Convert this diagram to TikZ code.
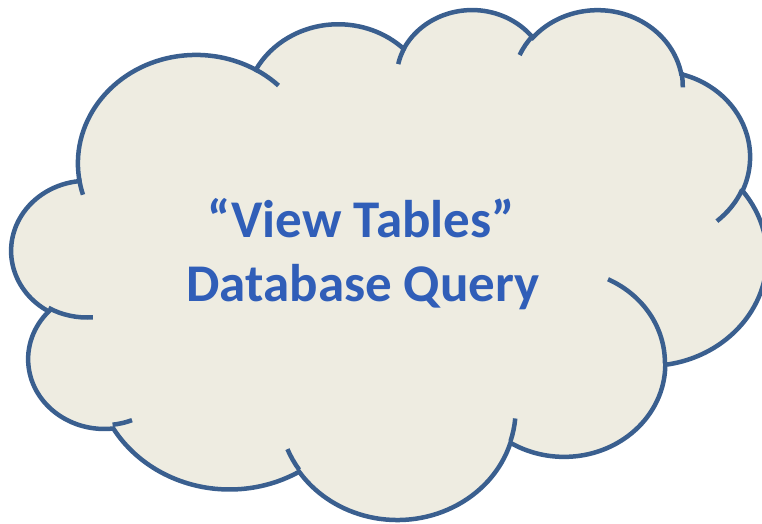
\documentclass[tikz,border=0pt]{standalone}
\usepackage{fontspec}
\setmainfont{Carlito}
\definecolor{cloudfill}{HTML}{EEECE1}
\definecolor{cloudline}{HTML}{3A5F8F}
\definecolor{wordblue}{RGB}{48,94,184}
\newcommand\defarc[5]{%
  \pgfmathsetmacro\tmpS{atan2(#2*sin(#4),#3*cos(#4))}%
  \pgfmathsetmacro\tmpE{atan2(#2*sin(#4+#5),#3*cos(#4+#5))}%
  \pgfmathsetmacro\tmpD{mod(\tmpE-\tmpS+720,360)}%
  \expandafter\xdef\csname cs#1\endcsname{\tmpS}%
  \expandafter\xdef\csname cd#1\endcsname{\tmpD}%
  \expandafter\xdef\csname cx#1\endcsname{#2}%
  \expandafter\xdef\csname cy#1\endcsname{#3}}
\newcommand\carc[1]{arc[x radius=\csname cx#1\endcsname, y radius=\csname cy#1\endcsname, start angle=\csname cs#1\endcsname, delta angle=\csname cd#1\endcsname]}
\tikzset{
  cloudshape/.style={fill=cloudfill, draw=cloudline, line width=4.5pt, line join=miter},
  cloudtick/.style={draw=cloudline, line width=4.5pt, line cap=butt},
  wordart/.style={text=wordblue, font=\fontsize{53}{65}\selectfont\bfseries, inner sep=0pt}
}
\begin{document}
\defarc{A}{67.53}{91.90}{-190.4875}{123.7805}
\defarc{B}{53.33}{72.67}{-144.1024}{89.9452}
\defarc{C}{43.65}{59.45}{-145.8079}{99.7230}
\defarc{D}{48.57}{65.95}{-130.9861}{117.2417}
\defarc{E}{53.33}{72.73}{-78.7089}{109.0269}
\defarc{F}{67.75}{92.20}{-46.2673}{130.2690}
\defarc{G}{57.85}{78.67}{0.6250}{114.0333}
\defarc{H}{67.52}{92.15}{22.4516}{115.1726}
\defarc{I}{77.20}{105.43}{66.2426}{74.7852}
\defarc{J}{43.60}{59.18}{-274.9421}{146.7356}
\defarc{K}{43.45}{59.45}{-246.8285}{152.5189}
\defarc{a}{43.45}{59.45}{86.7420}{26.4295}
\defarc{b}{43.60}{59.18}{73.6105}{11.4475}
\defarc{c}{67.52}{92.15}{137.6242}{14.0811}
\defarc{d}{67.52}{92.15}{6.4533}{15.9984}
\defarc{e}{57.85}{78.67}{-70.2924}{70.9174}
\defarc{f}{53.33}{72.73}{30.3180}{27.7515}
\defarc{g}{48.57}{65.95}{-13.7443}{14.8589}
\defarc{h}{48.57}{65.95}{-149.1815}{18.1954}
\defarc{i}{43.65}{59.45}{-163.4943}{17.6864}
\defarc{j}{67.53}{91.90}{-66.7070}{12.3194}
\defarc{k}{67.53}{91.90}{157.6544}{11.8582}
\begin{tikzpicture}[x=1pt,y=-1pt]
\useasboundingbox (0,0) rectangle (762,524);
\clip (0,0) rectangle (762,524);
\begin{scope}[shift={(10.75,8.4)}, x=1.75pt, y=-1.18pt]
  \path[cloudshape] (39.00,143.70) \carc{A} \carc{B} \carc{C} \carc{D} \carc{E} \carc{F} \carc{G} \carc{H} \carc{I} \carc{J} \carc{K} -- cycle;
  \path[cloudtick] (46.93,261.77) \carc{a};
  \path[cloudtick] (69.28,348.99) \carc{b};
  \path[cloudtick] (164.78,390.90) \carc{c};
  \path[cloudtick] (288.27,347.51) \carc{d};
  \path[cloudtick] (341.29,229.54) \carc{e};
  \path[cloudtick] (417.98,153.54) \carc{f};
  \path[cloudtick] (383.24,54.26) \carc{g};
  \path[cloudtick] (290.78,39.52) \carc{h};
  \path[cloudtick] (221.41,47.20) \carc{i};
  \path[cloudtick] (140.00,51.92) \carc{j};
  \path[cloudtick] (41.27,157.89) \carc{k};
\end{scope}
\node[wordart, anchor=base] (line1) at (361,237) {“View Tables”};
\node[wordart, anchor=base] (line2) at (363,301) {Database Query};
\end{tikzpicture}
\end{document}
